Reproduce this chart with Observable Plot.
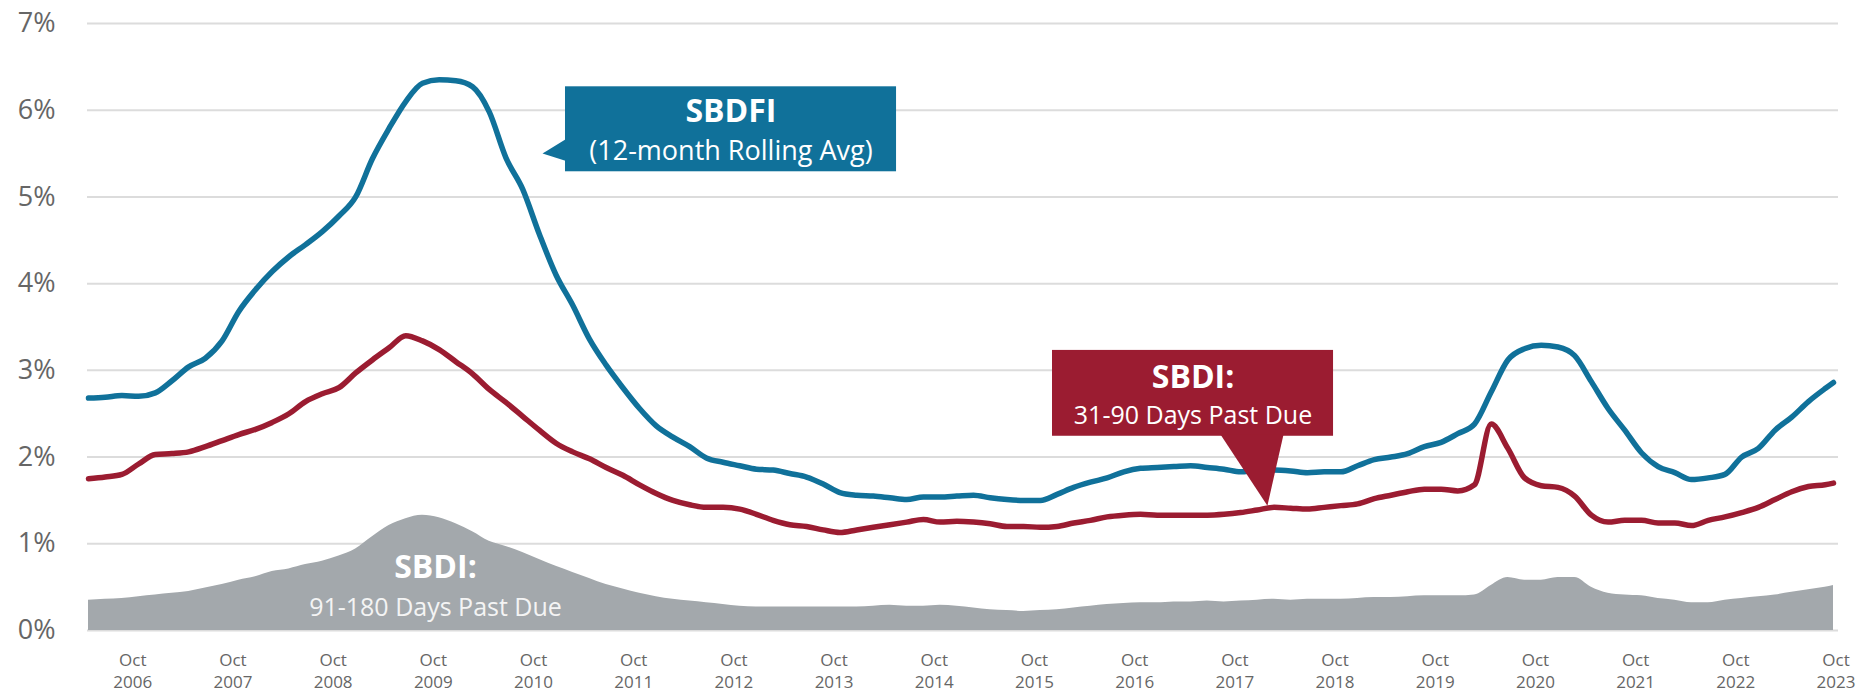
<!DOCTYPE html>
<html>
<head>
<meta charset="utf-8">
<script src="https://cdn.jsdelivr.net/npm/d3@7"></script>
<script src="https://cdn.jsdelivr.net/npm/@observablehq/plot@0.6"></script>
<style>
  html, body { margin: 0; padding: 0; background: #ffffff; }
  #chart { width: 1870px; height: 692px; }
</style>
</head>
<body>
<div id="chart"></div>
<script>
// Months since May 2006 (every second month, plus the final month, Oct 2023)
const monthIdx = d3.range(0, 209, 2).concat([209]);

// SBDFI (12-month rolling avg), %
const sbdfi = [
  2.68, 2.69, 2.71, 2.70, 2.74, 2.88, 3.04, 3.14, 3.34, 3.68,
  3.93, 4.14, 4.31, 4.45, 4.60, 4.78, 5.00, 5.44, 5.79, 6.10,
  6.31, 6.35, 6.34, 6.27, 5.98, 5.45, 5.09, 4.57, 4.10, 3.75,
  3.36, 3.06, 2.80, 2.56, 2.36, 2.23, 2.12, 1.99, 1.94, 1.90,
  1.86, 1.85, 1.81, 1.77, 1.69, 1.59, 1.56, 1.55, 1.53, 1.51,
  1.54, 1.54, 1.55, 1.56, 1.53, 1.51, 1.50, 1.50, 1.57, 1.65,
  1.71, 1.76, 1.83, 1.87, 1.88, 1.89, 1.90, 1.88, 1.86, 1.83,
  1.85, 1.85, 1.84, 1.82, 1.83, 1.83, 1.90, 1.97, 2.00, 2.04,
  2.12, 2.17, 2.27, 2.38, 2.75, 3.12, 3.25, 3.29, 3.27, 3.17,
  2.87, 2.56, 2.31, 2.05, 1.89, 1.82, 1.74, 1.76, 1.80, 2.00,
  2.10, 2.31, 2.46, 2.64, 2.79, 2.86
];

// SBDI: 31-90 days past due, %
const sbdi31 = [
  1.75, 1.77, 1.80, 1.92, 2.03, 2.04, 2.06, 2.12, 2.19, 2.26,
  2.32, 2.40, 2.50, 2.64, 2.73, 2.80, 2.97, 3.12, 3.26, 3.40,
  3.34, 3.24, 3.10, 2.96, 2.78, 2.63, 2.47, 2.31, 2.16, 2.06,
  1.98, 1.88, 1.79, 1.68, 1.58, 1.50, 1.45, 1.42, 1.42, 1.40,
  1.34, 1.27, 1.22, 1.20, 1.16, 1.13, 1.16, 1.19, 1.22, 1.25,
  1.28, 1.25, 1.26, 1.25, 1.23, 1.20, 1.20, 1.19, 1.20, 1.24,
  1.27, 1.31, 1.33, 1.34, 1.33, 1.33, 1.33, 1.33, 1.34, 1.36,
  1.39, 1.42, 1.41, 1.40, 1.42, 1.44, 1.46, 1.52, 1.56, 1.60,
  1.63, 1.63, 1.61, 1.68, 2.38, 2.10, 1.76, 1.67, 1.65, 1.55,
  1.33, 1.25, 1.27, 1.27, 1.24, 1.24, 1.21, 1.27, 1.31, 1.36,
  1.42, 1.51, 1.60, 1.66, 1.68, 1.70
];

// SBDI: 91-180 days past due, %
const sbdi91 = [
  0.35, 0.36, 0.37, 0.39, 0.41, 0.43, 0.45, 0.49, 0.53, 0.58,
  0.62, 0.68, 0.71, 0.76, 0.80, 0.86, 0.94, 1.08, 1.21, 1.29,
  1.33, 1.30, 1.23, 1.14, 1.03, 0.97, 0.90, 0.82, 0.74, 0.67,
  0.60, 0.53, 0.48, 0.43, 0.39, 0.36, 0.34, 0.32, 0.30, 0.28,
  0.27, 0.27, 0.27, 0.27, 0.27, 0.27, 0.27, 0.28, 0.29, 0.28,
  0.28, 0.29, 0.28, 0.26, 0.24, 0.23, 0.22, 0.23, 0.24, 0.26,
  0.28, 0.30, 0.31, 0.32, 0.32, 0.33, 0.33, 0.34, 0.33, 0.34,
  0.35, 0.36, 0.35, 0.36, 0.36, 0.36, 0.37, 0.38, 0.38, 0.39,
  0.40, 0.40, 0.40, 0.41, 0.52, 0.61, 0.58, 0.58, 0.61, 0.61,
  0.50, 0.43, 0.41, 0.40, 0.37, 0.35, 0.32, 0.32, 0.35, 0.37,
  0.39, 0.41, 0.44, 0.47, 0.50, 0.52
];

const yTicks = [0, 1, 2, 3, 4, 5, 6, 7];
const tickYears = d3.range(2006, 2024);
const tickMonthName = "Oct";

const data = monthIdx.map((m, k) => ({ m, sbdfi: sbdfi[k], sbdi31: sbdi31[k], sbdi91: sbdi91[k] }));
// Oct of each year, in months since May 2006
const xTicks = tickYears.map(y => (y - 2006) * 12 + 5.3);
const yearOf = new Map(xTicks.map((t, k) => [t, tickYears[k]]));

const BLUE = "#10719a";
const RED = "#9b1c31";
const GRAY = "#a3a8ac";

// Callout annotations (in data units: months since May 2006, percent)
const blueBox = [{ x1: 57.13, x2: 96.78, y1: 5.29, y2: 6.27 }];
const blueTip = [{ m: 57.4, v: 5.68 }, { m: 54.38, v: 5.50 }, { m: 57.4, v: 5.41 }];
const redBox = [{ x1: 115.46, x2: 149.12, y1: 2.24, y2: 3.23 }];
const redTip = [{ m: 135.58, v: 2.26 }, { m: 141.2, v: 1.44 }, { m: 143.13, v: 2.26 }];

const chart = Plot.plot({
  width: 1870,
  height: 692,
  marginLeft: 87,
  marginRight: 32,
  marginTop: 23,
  marginBottom: 62,
  style: { fontFamily: "'Open Sans', 'Noto Sans', sans-serif", background: "#ffffff", color: "#666666", overflow: "visible" },
  x: { type: "linear", domain: [-0.12, 209.6] },
  y: { domain: [0, 7] },
  marks: [
    Plot.gridY(yTicks, { stroke: "#dcdcdc", strokeOpacity: 1, strokeWidth: 2 }),
    Plot.areaY(data, { x: "m", y: "sbdi91", fill: GRAY, curve: "monotone-x" }),
    Plot.lineY(data, { x: "m", y: "sbdi31", stroke: RED, strokeWidth: 5.5, curve: "monotone-x" }),
    Plot.lineY(data, { x: "m", y: "sbdfi", stroke: BLUE, strokeWidth: 5.5, curve: "monotone-x" }),
    Plot.axisY(yTicks, { tickFormat: d => d + "%", tickSize: 0, tickPadding: 32, fontSize: 27, label: null }),
    Plot.axisX(xTicks, { tickFormat: t => tickMonthName + "\n" + yearOf.get(t), tickSize: 0, tickPadding: 20, fontSize: 17, lineHeight: 1.28, label: null }),
    // SBDFI callout
    Plot.rect(blueBox, { x1: "x1", x2: "x2", y1: "y1", y2: "y2", fill: BLUE }),
    Plot.line(blueTip, { x: "m", y: "v", fill: BLUE, stroke: "none" }),
    Plot.text(["SBDFI"], { x: 76.95, y: 5.98, text: d => d, fill: "#ffffff", fontWeight: "bold", fontSize: 32, lineAnchor: "middle" }),
    Plot.text(["(12-month Rolling Avg)"], { x: 76.95, y: 5.52, text: d => d, fill: "#ffffff", fontSize: 27, lineAnchor: "middle" }),
    // SBDI 31-90 callout
    Plot.rect(redBox, { x1: "x1", x2: "x2", y1: "y1", y2: "y2", fill: RED }),
    Plot.line(redTip, { x: "m", y: "v", fill: RED, stroke: "none" }),
    Plot.text(["SBDI:"], { x: 132.29, y: 2.91, text: d => d, fill: "#ffffff", fontWeight: "bold", fontSize: 32, lineAnchor: "middle" }),
    Plot.text(["31-90 Days Past Due"], { x: 132.29, y: 2.47, text: d => d, fill: "#ffffff", fontSize: 25, lineAnchor: "middle" }),
    // SBDI 91-180 label inside area
    Plot.text(["SBDI:"], { x: 41.56, y: 0.72, text: d => d, fill: "#ffffff", fontWeight: "bold", fontSize: 32, lineAnchor: "middle" }),
    Plot.text(["91-180 Days Past Due"], { x: 41.56, y: 0.26, text: d => d, fill: "#f4f4f4", fontSize: 25, lineAnchor: "middle" })
  ]
});

document.getElementById("chart").appendChild(chart);
</script>
</body>
</html>
